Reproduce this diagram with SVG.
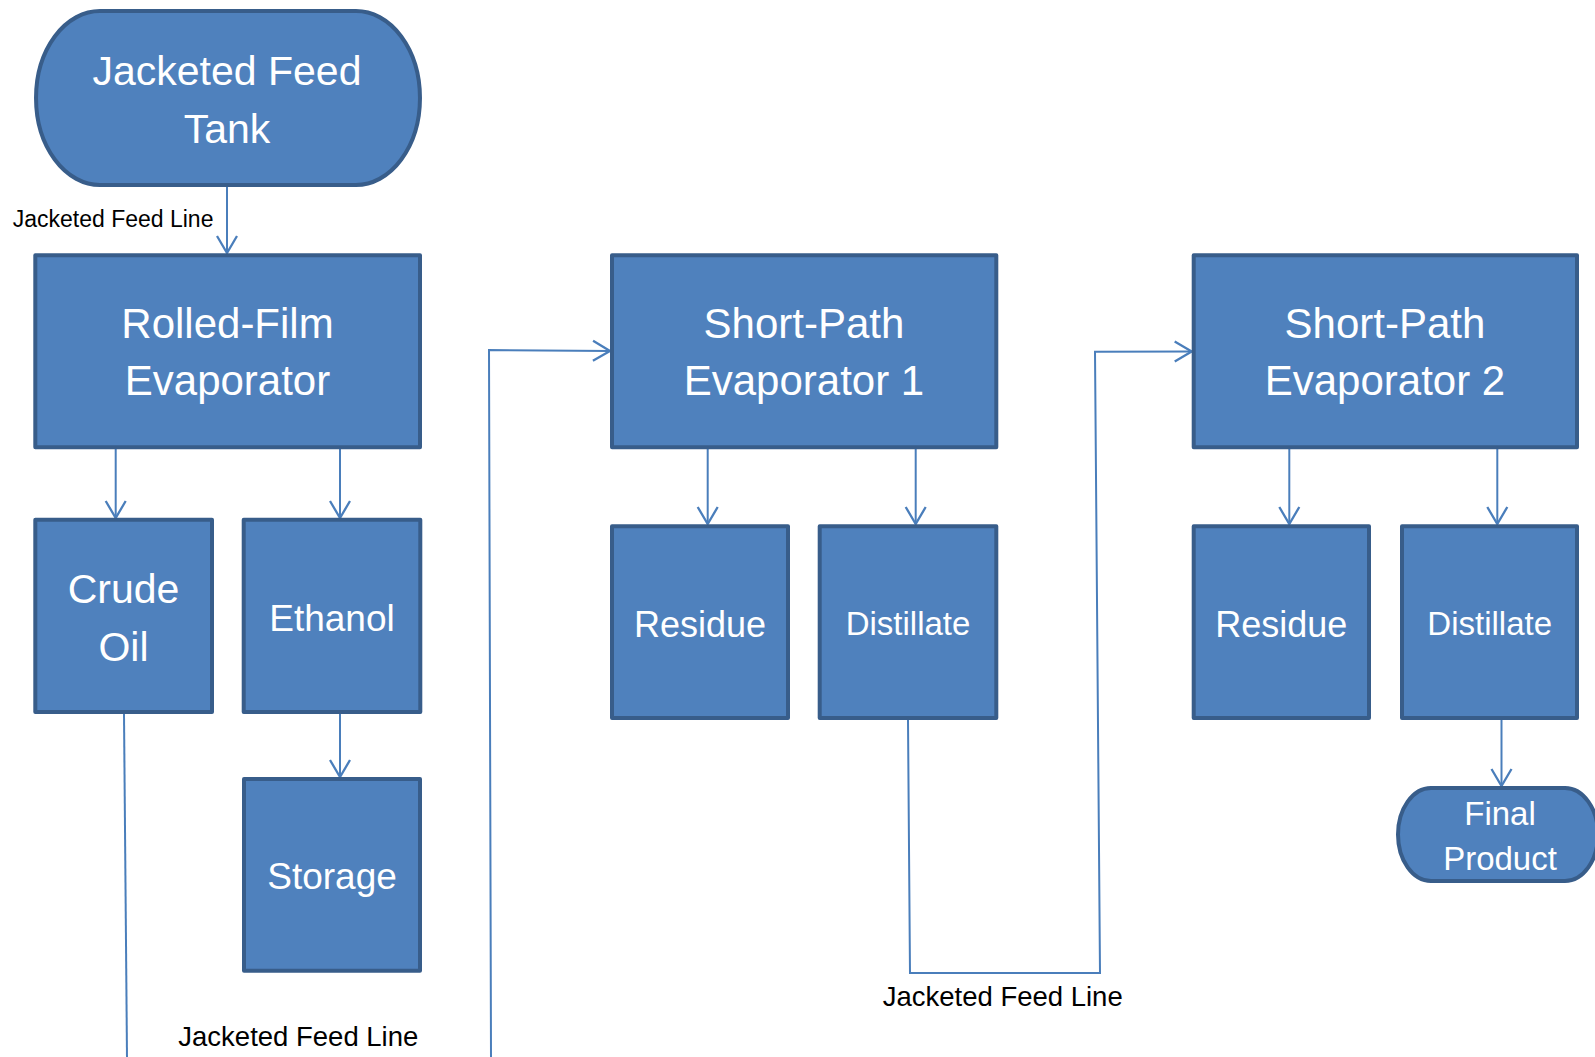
<svg xmlns="http://www.w3.org/2000/svg" width="1595" height="1057" viewBox="0 0 1595 1057">
<style>
.node{fill:#4F81BD;stroke:#385D8A;stroke-width:4;stroke-linejoin:round}
.t{fill:#FFFFFF;font-family:"Liberation Sans",Arial,sans-serif;text-anchor:middle}
.lbl{fill:#000000;font-family:"Liberation Sans",Arial,sans-serif}
.c{fill:none;stroke:#4A7EBB;stroke-width:2}
</style>
<defs>
<marker id="arr" markerUnits="userSpaceOnUse" markerWidth="24" markerHeight="26" refX="18" refY="11" orient="auto" overflow="visible">
<path d="M1,1 L18,11 L1,21" fill="none" stroke="#4A7EBB" stroke-width="2.3"/>
</marker>
</defs>
<rect width="1595" height="1057" fill="#FFFFFF"/>
<g id="connectors">
<path class="c" d="M227,187 L227,253" marker-end="url(#arr)"/>
<path class="c" d="M115.7,449 L115.7,518" marker-end="url(#arr)"/>
<path class="c" d="M340,449 L340,518" marker-end="url(#arr)"/>
<path class="c" d="M340,714 L340,777" marker-end="url(#arr)"/>
<path class="c" d="M124,714 L127,1057"/>
<path class="c" d="M491,1057 L489,350 L610,351" marker-end="url(#arr)"/>
<path class="c" d="M707.7,449 L707.7,524" marker-end="url(#arr)"/>
<path class="c" d="M915.7,449 L915.7,524" marker-end="url(#arr)"/>
<path class="c" d="M908,720 L910,973 L1100,973 L1095,351.7 L1191.7,351.5" marker-end="url(#arr)"/>
<path class="c" d="M1289.3,449 L1289.3,524" marker-end="url(#arr)"/>
<path class="c" d="M1497.3,449 L1497.3,524" marker-end="url(#arr)"/>
<path class="c" d="M1501.5,720 L1501.5,786" marker-end="url(#arr)"/>
<text class="lbl" x="12.7" y="227" font-size="23">Jacketed Feed Line</text>
<text class="lbl" x="178.3" y="1046" font-size="27.5">Jacketed Feed Line</text>
<text class="lbl" x="882.7" y="1006" font-size="27.5">Jacketed Feed Line</text>
</g>
<g id="tank">
<path class="node" d="M100,11 H356 A64,87 0 0 1 356,185 H100 A64,87 0 0 1 100,11 Z"/>
<text class="t" x="227" y="85" font-size="41">Jacketed Feed</text>
<text class="t" x="227" y="143" font-size="41">Tank</text>
</g>
<g id="rolled-film">
<rect class="node" x="35.3" y="255.3" width="384.7" height="192"/>
<text class="t" x="227.5" y="338" font-size="42">Rolled-Film</text>
<text class="t" x="227.5" y="395" font-size="42">Evaporator</text>
</g>
<g id="crude-oil">
<rect class="node" x="35.3" y="519.7" width="176.7" height="192.3"/>
<text class="t" x="123.5" y="603" font-size="41">Crude</text>
<text class="t" x="123.5" y="661" font-size="41">Oil</text>
</g>
<g id="ethanol">
<rect class="node" x="243.7" y="519.7" width="176.6" height="192.3"/>
<text class="t" x="332" y="631" font-size="37">Ethanol</text>
</g>
<g id="storage">
<rect class="node" x="244" y="779" width="176" height="191.7"/>
<text class="t" x="332" y="889" font-size="37">Storage</text>
</g>
<g id="sp1">
<rect class="node" x="612" y="255.3" width="384.3" height="192"/>
<text class="t" x="804" y="338" font-size="42">Short-Path</text>
<text class="t" x="804" y="395" font-size="42">Evaporator 1</text>
</g>
<g id="residue1">
<rect class="node" x="612" y="526.3" width="176" height="191.7"/>
<text class="t" x="700" y="637" font-size="36">Residue</text>
</g>
<g id="distillate1">
<rect class="node" x="819.7" y="526.3" width="176.6" height="191.7"/>
<text class="t" x="908" y="635" font-size="33">Distillate</text>
</g>
<g id="sp2">
<rect class="node" x="1193.7" y="255.3" width="383.3" height="192"/>
<text class="t" x="1385" y="338" font-size="42">Short-Path</text>
<text class="t" x="1385" y="395" font-size="42">Evaporator 2</text>
</g>
<g id="residue2">
<rect class="node" x="1193.7" y="526.3" width="175.3" height="191.7"/>
<text class="t" x="1281.3" y="637" font-size="36">Residue</text>
</g>
<g id="distillate2">
<rect class="node" x="1402" y="526.3" width="175" height="191.7"/>
<text class="t" x="1489.7" y="635" font-size="33">Distillate</text>
</g>
<g id="final-product">
<path class="node" d="M1431,788 H1565 A33,46.5 0 0 1 1565,881 H1431 A33,46.5 0 0 1 1431,788 Z"/>
<text class="t" x="1500" y="825" font-size="33">Final</text>
<text class="t" x="1500" y="870" font-size="33">Product</text>
</g>
</svg>
